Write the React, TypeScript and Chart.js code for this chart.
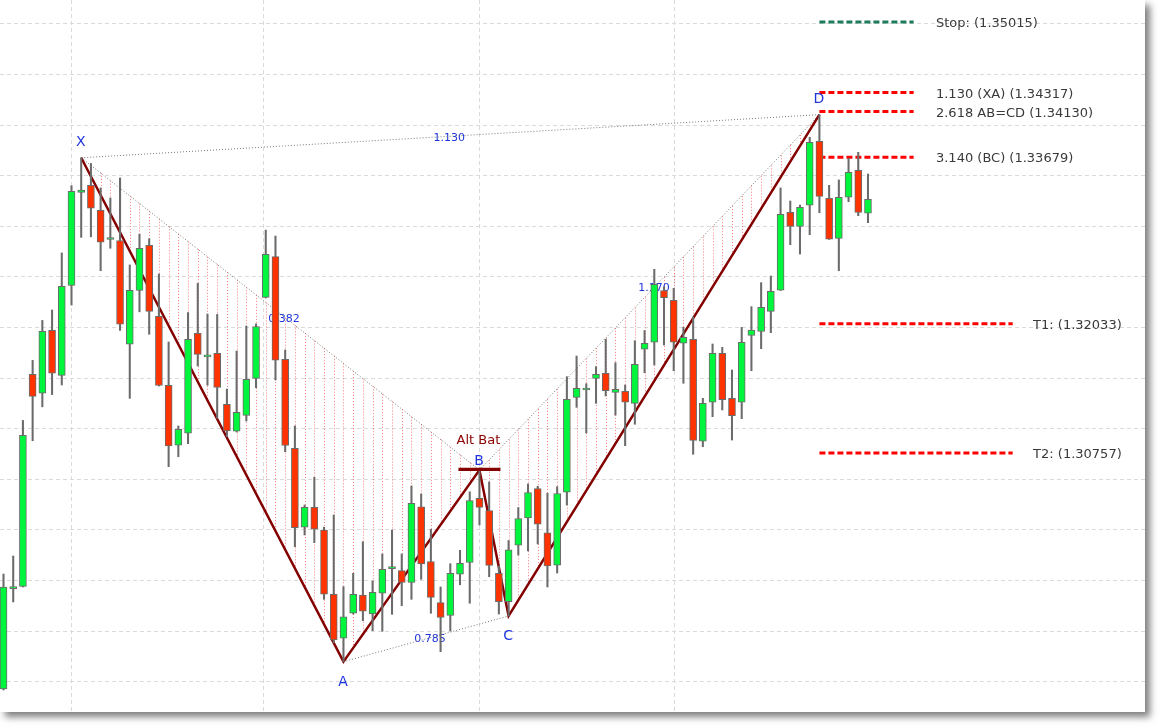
import React, { useEffect, useRef } from "react";
import { Chart, registerables } from "chart.js";

Chart.register(...registerables);

// ---- OHLC data (bar index = position in arrays) ----
const opens = [
  1.28424, 1.29415, 1.29438, 1.31534, 1.31347, 1.31967, 1.31523, 1.32412, 1.33332, 1.33402,
  1.33155, 1.32866, 1.32856, 1.31831, 1.32363, 1.32807, 1.32107, 1.31425, 1.30833, 1.30951,
  1.31939, 1.31705, 1.31741, 1.31237, 1.30971, 1.31128, 1.31494, 1.32294, 1.32696, 1.31682,
  1.30802, 1.30022, 1.30219, 1.29995, 1.2936, 1.28925, 1.29172, 1.29353, 1.29165, 1.2937,
  1.29613, 1.29593, 1.29478, 1.30225, 1.29682, 1.29277, 1.2915, 1.29558, 1.29674, 1.30308,
  1.30186, 1.29567, 1.29286, 1.29844, 1.30114, 1.30405, 1.29968, 1.29647, 1.30368, 1.31306,
  1.31378, 1.31494, 1.31543, 1.31354, 1.31366, 1.31247, 1.31781, 1.3185, 1.32362, 1.32265,
  1.3184, 1.31879, 1.30874, 1.31257, 1.31741, 1.31296, 1.31257, 1.31917, 1.31958, 1.32156,
  1.32364, 1.33134, 1.32996, 1.33204, 1.33836, 1.33273, 1.32877, 1.33283, 1.33549, 1.33125,
];
const highs = [
  1.2956, 1.29738, 1.31078, 1.31671, 1.32066, 1.32169, 1.32733, 1.33397, 1.33673, 1.33617,
  1.33375, 1.33276, 1.33474, 1.32614, 1.32918, 1.32873, 1.32525, 1.31853, 1.31023, 1.32144,
  1.32433, 1.32129, 1.32125, 1.31388, 1.31764, 1.32011, 1.32031, 1.32959, 1.329, 1.31774,
  1.31023, 1.30242, 1.30516, 1.30022, 1.30143, 1.29435, 1.29567, 1.29879, 1.29491, 1.29758,
  1.29995, 1.29758, 1.3043, 1.30351, 1.30002, 1.29432, 1.29662, 1.29794, 1.30372, 1.30588,
  1.30469, 1.29639, 1.29891, 1.30217, 1.3045, 1.30427, 1.30358, 1.30423, 1.3151, 1.31714,
  1.31441, 1.31609, 1.31879, 1.31648, 1.31428, 1.31865, 1.31966, 1.32571, 1.32396, 1.32383,
  1.31998, 1.321, 1.31296, 1.31833, 1.318, 1.31576, 1.31998, 1.32202, 1.32439, 1.32505,
  1.33375, 1.33246, 1.33206, 1.33876, 1.34099, 1.33401, 1.33454, 1.33668, 1.33727, 1.33513,
];
const lows = [
  1.28414, 1.29284, 1.29432, 1.30877, 1.31212, 1.31333, 1.31428, 1.32218, 1.32887, 1.32892,
  1.32557, 1.32779, 1.31967, 1.31296, 1.32151, 1.31929, 1.31418, 1.30621, 1.30719, 1.30848,
  1.31616, 1.31426, 1.31099, 1.30917, 1.30963, 1.31072, 1.31401, 1.32288, 1.31477, 1.30769,
  1.2983, 1.29946, 1.2987, 1.2931, 1.28881, 1.28694, 1.29165, 1.29099, 1.29, 1.28994,
  1.29162, 1.29247, 1.2931, 1.29508, 1.29172, 1.28793, 1.28999, 1.29454, 1.29271, 1.30045,
  1.29534, 1.29165, 1.29145, 1.29748, 1.29788, 1.29857, 1.29432, 1.2957, 1.30242, 1.31207,
  1.30954, 1.31247, 1.31319, 1.31131, 1.30828, 1.3104, 1.31549, 1.31626, 1.31823, 1.31569,
  1.31445, 1.30743, 1.30818, 1.31115, 1.31181, 1.30884, 1.31095, 1.31569, 1.31787, 1.31945,
  1.32362, 1.32814, 1.32722, 1.32913, 1.3313, 1.32866, 1.32557, 1.33239, 1.33101, 1.33032,
];
const closes = [
  1.29432, 1.29415, 1.3093, 1.31315, 1.31957, 1.31544, 1.32402, 1.33341, 1.33355, 1.33174,
  1.32839, 1.32866, 1.32029, 1.32363, 1.32779, 1.32155, 1.31423, 1.30825, 1.3099, 1.31879,
  1.31731, 1.31705, 1.31403, 1.30973, 1.31158, 1.31484, 1.32006, 1.32719, 1.31673, 1.3083,
  1.30018, 1.30219, 1.30002, 1.2936, 1.28908, 1.29138, 1.2936, 1.29192, 1.29379, 1.29607,
  1.29613, 1.29478, 1.30259, 1.29659, 1.2933, 1.2913, 1.29567, 1.29666, 1.30285, 1.30219,
  1.29646, 1.29287, 1.298, 1.30109, 1.30366, 1.30052, 1.29641, 1.30356, 1.31287, 1.31395,
  1.31378, 1.31534, 1.31372, 1.31385, 1.31257, 1.31632, 1.3184, 1.32423, 1.32292, 1.3185,
  1.31899, 1.30881, 1.31247, 1.31741, 1.31283, 1.31126, 1.3185, 1.31971, 1.32196, 1.32354,
  1.33115, 1.32996, 1.33184, 1.33826, 1.33292, 1.32868, 1.33283, 1.3353, 1.33134, 1.33263,
];

// ---- Harmonic pattern ----
const pointNames = ["X", "A", "B", "C", "D"];
const pointBars = [8, 35, 49, 52, 84];
const pointPrices = [1.33673, 1.28694, 1.30588, 1.29145, 1.34099];
const patternName = "Alt Bat";

const ratioTexts = ["0.382", "0.785", "1.170", "1.130"];
const ratioFrom = ["X", "A", "B", "X"];
const ratioTo = ["B", "C", "D", "D"];

// ---- Levels ----
const levelTexts = ["Stop:", "1.130 (XA)", "2.618 AB=CD", "3.140 (BC)", "T1:", "T2:"];
const levelPrices = [1.35015, 1.34317, 1.3413, 1.33679, 1.32033, 1.30757];

// ---- Grid ----
const gridPrices = [
  1.285, 1.29, 1.295, 1.3, 1.305, 1.31, 1.315, 1.32, 1.325, 1.33, 1.335, 1.34, 1.345, 1.35,
];
const gridBars = [7, 26.7, 49, 69];

// ---- layout constants ----
const X_MIN = -0.36;
const X_MAX = 117.52;
const Y_MIN = 1.281966;
const Y_MAX = 1.352322;
const SHORT_END = 93.7;
const LONG_END = 103.9;
const SHORT_LABEL = 96;
const LONG_LABEL = 106;

const GREEN = "#00f53d";
const RED = "#ff3300";
const EDGE = "#6b6b6b";
const BLUE = "#1f35dc";
const FONT = '"DejaVu Sans", "Liberation Sans", sans-serif';

const ratioOffsets = [
  [3.7, 4],
  [4, -0.5],
  [4.6, -5],
  [-1, 1],
];
const letterOffsets = [-17.3, 19.6, -10.5, 18.7, -17];

export default function App() {
  const ref = useRef<HTMLCanvasElement | null>(null);

  useEffect(() => {
    const canvas = ref.current;
    if (!canvas) return;
    const bars = opens.map((_, i) => i);
    const bodyColors = bars.map((i) => (closes[i] >= opens[i] ? GREEN : RED));
    const pt = (n: string) => {
      const k = pointNames.indexOf(n);
      return { x: pointBars[k], y: pointPrices[k] };
    };

    const datasets: any[] = [];
    datasets.push({
      type: "bar",
      label: "body",
      data: bars.map((i) => ({ x: i, y: [opens[i], closes[i]] })),
      backgroundColor: bodyColors,
      borderColor: EDGE,
      borderWidth: 1,
      borderSkipped: false,
      barThickness: 7,
      minBarLength: 2,
      grouped: false,
      order: 0,
    });
    datasets.push({
      type: "bar",
      label: "wick",
      data: bars.map((i) => ({ x: i, y: [lows[i], highs[i]] })),
      backgroundColor: EDGE,
      borderWidth: 0,
      barThickness: 1.4,
      grouped: false,
      order: 1,
    });
    datasets.push({
      type: "line",
      label: "pattern",
      data: pointNames.map((n) => pt(n)),
      borderColor: "#840000",
      borderWidth: 2.5,
      pointRadius: 0,
      tension: 0,
      order: 2,
    });
    ratioFrom.forEach((f, k) => {
      datasets.push({
        type: "line",
        label: "ratio" + k,
        data: [pt(f), pt(ratioTo[k])],
        borderColor: "#777777",
        borderWidth: 1,
        borderDash: [1, 2],
        pointRadius: 0,
        order: 3,
      });
    });
    levelPrices.forEach((p, k) => {
      const long = levelTexts[k].startsWith("T");
      datasets.push({
        type: "line",
        label: "level" + k,
        data: [
          { x: pointBars[4], y: p },
          { x: long ? LONG_END : SHORT_END, y: p },
        ],
        borderColor: k === 0 ? "#1e7b5b" : "#ff0000",
        borderWidth: 3,
        borderDash: [6, 3],
        borderCapStyle: "butt",
        pointRadius: 0,
        order: 4,
      });
    });

    const overlay = {
      id: "overlay",
      beforeDatasetsDraw(chart: any) {
        const { ctx, chartArea: a } = chart;
        const xs = chart.scales.x;
        const ys = chart.scales.y;
        const px = (v: number) => xs.getPixelForValue(v);
        const py = (v: number) => ys.getPixelForValue(v);
        ctx.save();
        // grid
        ctx.strokeStyle = "#dadada";
        ctx.lineWidth = 1;
        ctx.setLineDash([4, 3]);
        gridPrices.forEach((g) => {
          const y = Math.round(py(g)) + 0.5;
          ctx.beginPath();
          ctx.moveTo(a.left, y);
          ctx.lineTo(a.right, y);
          ctx.stroke();
        });
        gridBars.forEach((g) => {
          const x = Math.round(px(g)) + 0.5;
          ctx.beginPath();
          ctx.moveTo(x, a.top);
          ctx.lineTo(x, a.bottom);
          ctx.stroke();
        });
        // hatch fill of the two triangles
        const P = pointNames.map((_, k) => ({ x: px(pointBars[k]), y: py(pointPrices[k]) }));
        const [X, A, B, C, D] = P;
        const on = (p: any, q: any, x: number) => p.y + ((q.y - p.y) * (x - p.x)) / (q.x - p.x);
        ctx.strokeStyle = "rgba(255,80,80,0.75)";
        ctx.setLineDash([1, 2]);
        const vline = (x: number, y0: number, y1: number) => {
          const xx = Math.round(x) + 0.5;
          ctx.beginPath();
          ctx.moveTo(xx, y0);
          ctx.lineTo(xx, y1);
          ctx.stroke();
        };
        for (let i = pointBars[0] + 1; i < pointBars[2]; i++) {
          const x = px(i);
          const yt = on(X, B, x);
          const yb = i <= pointBars[1] ? on(X, A, x) : on(A, B, x);
          vline(x, yt, yb);
        }
        for (let i = pointBars[2] + 1; i < pointBars[4]; i++) {
          const x = px(i);
          const yt = on(B, D, x);
          const yb = i <= pointBars[3] ? on(B, C, x) : on(C, D, x);
          vline(x, yt, yb);
        }
        // ratio labels (under candles)
        ctx.setLineDash([]);
        ctx.fillStyle = BLUE;
        ctx.font = "11px " + FONT;
        ctx.textAlign = "center";
        ctx.textBaseline = "alphabetic";
        ratioTexts.forEach((t, k) => {
          const p = P[pointNames.indexOf(ratioFrom[k])];
          const q = P[pointNames.indexOf(ratioTo[k])];
          const cx = (p.x + q.x) / 2 + ratioOffsets[k][0];
          const cy = (p.y + q.y) / 2 + ratioOffsets[k][1];
          ctx.fillText(t, cx, cy + 4);
        });
        ctx.restore();
      },
      afterDatasetsDraw(chart: any) {
        const { ctx } = chart;
        const xs = chart.scales.x;
        const ys = chart.scales.y;
        const px = (v: number) => xs.getPixelForValue(v);
        const py = (v: number) => ys.getPixelForValue(v);
        ctx.save();
        const P = pointNames.map((_, k) => ({ x: px(pointBars[k]), y: py(pointPrices[k]) }));
        // B marker bar
        const B = P[2];
        ctx.strokeStyle = "#840000";
        ctx.lineWidth = 3.3;
        ctx.beginPath();
        ctx.moveTo(B.x - 21, B.y - 0.7);
        ctx.lineTo(B.x + 21, B.y - 0.7);
        ctx.stroke();
        // letters
        ctx.textAlign = "center";
        ctx.textBaseline = "alphabetic";
        ctx.font = "14px " + FONT;
        ctx.fillStyle = BLUE;
        pointNames.forEach((n, k) => {
          ctx.fillText(n, P[k].x - 0.5, P[k].y + letterOffsets[k] + 5.1);
        });
        ctx.font = "13px " + FONT;
        ctx.fillStyle = "#8b0000";
        ctx.fillText(patternName, B.x - 1, B.y - 30.3 + 4.7);
        // level labels
        ctx.textAlign = "left";
        ctx.fillStyle = "#3a3a3a";
        levelTexts.forEach((t, k) => {
          const long = t.startsWith("T");
          const x = px(long ? LONG_LABEL : SHORT_LABEL);
          const y = py(levelPrices[k]);
          ctx.fillText(t + " (" + levelPrices[k].toFixed(5) + ")", x, y + 5);
        });
        ctx.restore();
      },
    };

    const chart = new Chart(canvas, {
      type: "bar",
      data: { datasets },
      options: {
        responsive: false,
        animation: false,
        events: [],
        layout: { padding: 0 },
        plugins: { legend: { display: false }, tooltip: { enabled: false } },
        scales: {
          x: { type: "linear", display: false, min: X_MIN, max: X_MAX, offset: false },
          y: { type: "linear", display: false, min: Y_MIN, max: Y_MAX, beginAtZero: false },
        },
      } as any,
      plugins: [overlay],
    } as any);
    return () => chart.destroy();
  }, []);

  return (
    <div
      style={{
        position: "absolute",
        left: 0,
        top: 0,
        width: 1160,
        height: 727,
        background: "#ffffff",
        overflow: "hidden",
      }}
    >
      <div
        style={{
          position: "absolute",
          left: 0,
          top: 0,
          width: 1145,
          height: 712,
          background: "#ffffff",
          boxShadow: "5px 5px 7px rgba(0,0,0,0.5)",
        }}
      >
        <canvas ref={ref} width={1145} height={712} style={{ display: "block" }} />
      </div>
    </div>
  );
}
